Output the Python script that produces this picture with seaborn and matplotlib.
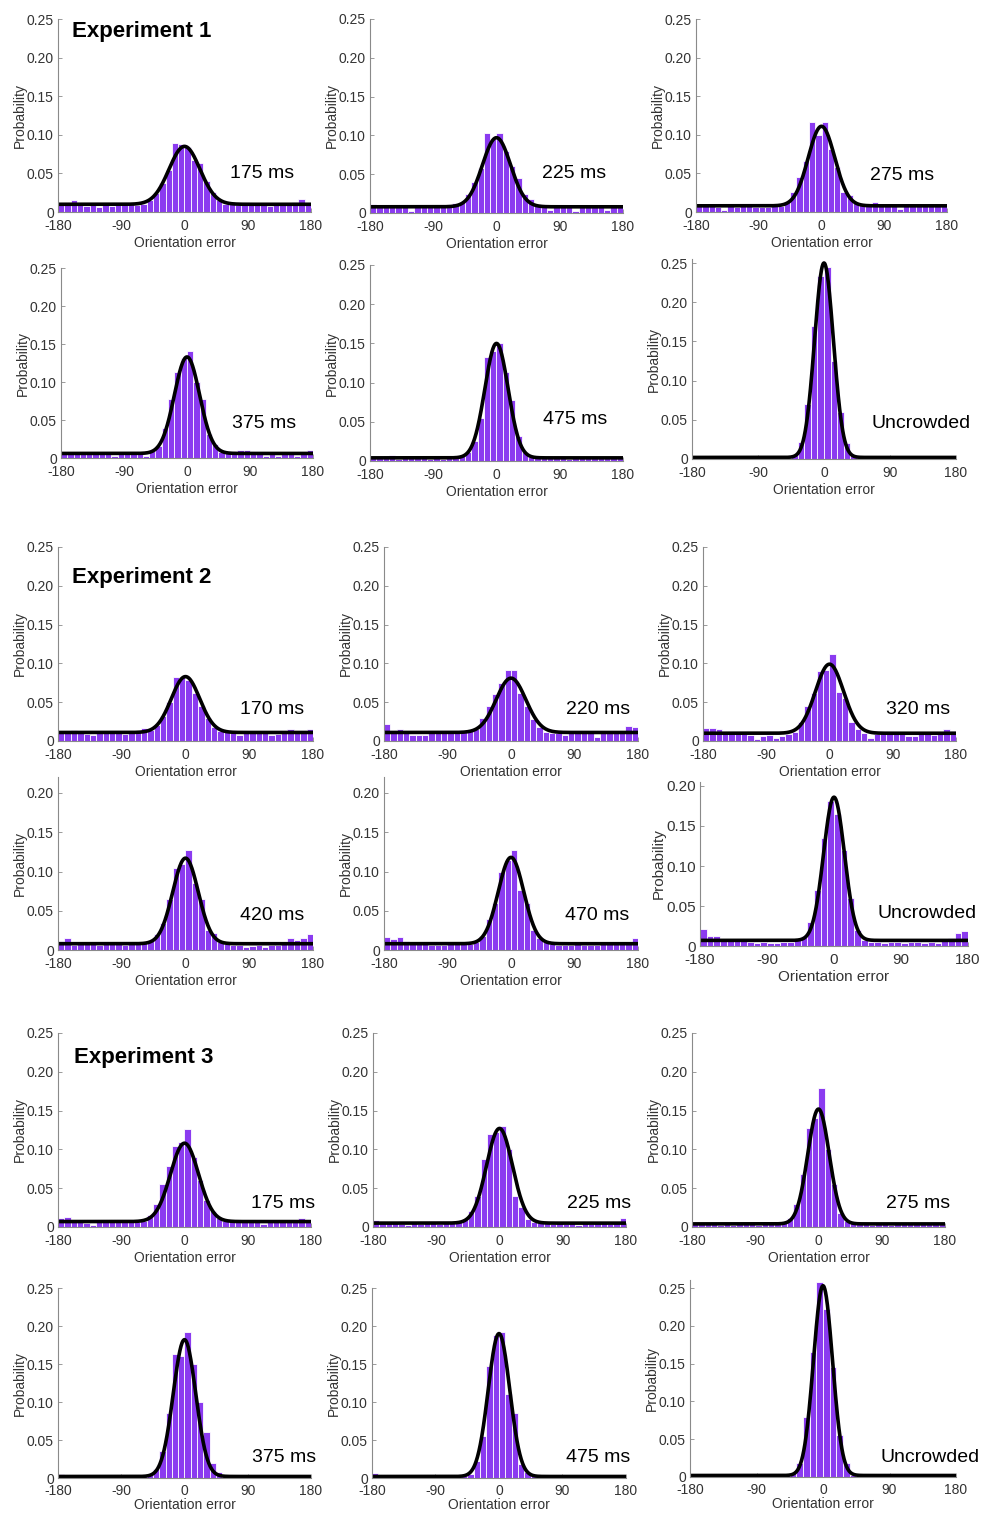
import numpy as np
import pandas as pd
import matplotlib
matplotlib.use('Agg')
import matplotlib.pyplot as plt
import seaborn as sns

sns.set_theme(style='ticks')
plt.rcParams['font.family'] = ['Liberation Sans', 'DejaVu Sans']

# 9-degree bins from -180 to 180
bin_edges = list(range(-180, 181, 9))
bin_centres = [e + 4.5 for e in bin_edges[:-1]]
x_ticks = [-180, -90, 0, 90, 180]

# probability per bin (40 bins each)
e1_175 = [0.010, 0.010, 0.015, 0.009, 0.008, 0.009, 0.007, 0.009, 0.008, 0.009, 0.011, 0.010, 0.009, 0.011,
          0.015, 0.024, 0.038, 0.055, 0.089, 0.088, 0.084, 0.068, 0.063, 0.040, 0.026, 0.016, 0.011,
          0.010, 0.009, 0.010, 0.009, 0.010, 0.009, 0.008, 0.010, 0.009, 0.010, 0.013, 0.017, 0.011]
e1_225 = [0.012, 0.010, 0.008, 0.008, 0.008, 0.009, 0.003, 0.008, 0.008, 0.008, 0.009, 0.008, 0.009,
          0.013, 0.014, 0.025, 0.040, 0.058, 0.103, 0.095, 0.103, 0.080, 0.060, 0.045, 0.025, 0.018, 0.011,
          0.008, 0.004, 0.008, 0.008, 0.008, 0.003, 0.008, 0.008, 0.008, 0.008, 0.004, 0.008, 0.009]
e1_275 = [0.010, 0.011, 0.010, 0.006, 0.003, 0.008, 0.007, 0.008, 0.008, 0.007, 0.006, 0.007, 0.008, 0.008,
          0.013, 0.026, 0.045, 0.066, 0.117, 0.100, 0.117, 0.082, 0.058, 0.026, 0.022, 0.012,
          0.009, 0.009, 0.013, 0.008, 0.008, 0.008, 0.004, 0.008, 0.008, 0.008, 0.008, 0.008, 0.008, 0.008]
e1_375 = [0.006, 0.006, 0.005, 0.006, 0.006, 0.006, 0.005, 0.006, 0.003, 0.006, 0.006, 0.005, 0.006, 0.003,
          0.009, 0.016, 0.040, 0.078, 0.113, 0.131, 0.141, 0.100, 0.078, 0.032, 0.018, 0.008,
          0.006, 0.006, 0.010, 0.010, 0.006, 0.006, 0.003, 0.006, 0.003, 0.006, 0.006, 0.003, 0.006, 0.011]
e1_475 = [0.004, 0.004, 0.004, 0.008, 0.003, 0.004, 0.004, 0.004, 0.004, 0.003, 0.004, 0.002, 0.004, 0.004,
          0.006, 0.012, 0.025, 0.055, 0.133, 0.140, 0.151, 0.113, 0.078, 0.032, 0.012, 0.005,
          0.004, 0.004, 0.004, 0.004, 0.004, 0.003, 0.004, 0.004, 0.004, 0.004, 0.004, 0.004, 0.004, 0.007]
e1_unc = [0.004, 0.001, 0.001, 0.001, 0.001, 0.001, 0.001, 0.001, 0.001, 0.001, 0.001, 0.001, 0.001, 0.001,
          0.001, 0.005, 0.022, 0.070, 0.170, 0.233, 0.245, 0.125, 0.060, 0.020, 0.005,
          0.001, 0.001, 0.001, 0.001, 0.001, 0.001, 0.001, 0.001, 0.001, 0.001, 0.001, 0.001, 0.001, 0.001, 0.001]
e2_170 = [0.012, 0.011, 0.014, 0.011, 0.009, 0.008, 0.010, 0.011, 0.012, 0.012, 0.009, 0.011, 0.012,
          0.017, 0.014, 0.021, 0.032, 0.050, 0.083, 0.082, 0.078, 0.062, 0.045, 0.030, 0.018, 0.013,
          0.011, 0.010, 0.008, 0.010, 0.012, 0.012, 0.010, 0.008, 0.009, 0.011, 0.015, 0.012, 0.012, 0.016]
e2_220 = [0.022, 0.011, 0.015, 0.012, 0.008, 0.008, 0.008, 0.010, 0.012, 0.013, 0.010, 0.010, 0.011,
          0.013, 0.015, 0.030, 0.045, 0.060, 0.075, 0.092, 0.092, 0.062, 0.045, 0.028, 0.018, 0.012,
          0.010, 0.010, 0.008, 0.010, 0.010, 0.010, 0.012, 0.005, 0.012, 0.010, 0.010, 0.010, 0.019, 0.018]
e2_320 = [0.017, 0.017, 0.015, 0.009, 0.009, 0.009, 0.009, 0.008, 0.002, 0.007, 0.008, 0.004, 0.006,
          0.009, 0.012, 0.025, 0.045, 0.062, 0.090, 0.092, 0.112, 0.063, 0.055, 0.025, 0.015, 0.010,
          0.004, 0.009, 0.010, 0.009, 0.009, 0.010, 0.007, 0.006, 0.009, 0.010, 0.008, 0.010, 0.016, 0.013]
e2_420 = [0.012, 0.015, 0.007, 0.008, 0.008, 0.008, 0.006, 0.008, 0.008, 0.008, 0.007, 0.008, 0.008, 0.009,
          0.012, 0.020, 0.035, 0.065, 0.105, 0.110, 0.127, 0.085, 0.065, 0.025, 0.022, 0.010,
          0.008, 0.007, 0.006, 0.004, 0.005, 0.007, 0.004, 0.007, 0.007, 0.008, 0.015, 0.013, 0.015, 0.020]
e2_470 = [0.016, 0.014, 0.016, 0.011, 0.008, 0.008, 0.008, 0.006, 0.006, 0.007, 0.008, 0.008, 0.008, 0.008,
          0.010, 0.018, 0.040, 0.060, 0.100, 0.115, 0.127, 0.076, 0.060, 0.025, 0.015, 0.010,
          0.008, 0.006, 0.007, 0.006, 0.008, 0.007, 0.006, 0.007, 0.008, 0.008, 0.008, 0.008, 0.008, 0.015]
e2_unc = [0.021, 0.012, 0.013, 0.008, 0.007, 0.006, 0.006, 0.005, 0.004, 0.005, 0.004, 0.004, 0.005, 0.005,
          0.007, 0.012, 0.030, 0.070, 0.135, 0.181, 0.165, 0.120, 0.060, 0.020, 0.008, 0.005,
          0.005, 0.004, 0.005, 0.005, 0.004, 0.005, 0.005, 0.004, 0.005, 0.004, 0.006, 0.010, 0.016, 0.019]
e3_175 = [0.012, 0.013, 0.008, 0.006, 0.005, 0.002, 0.006, 0.007, 0.006, 0.007, 0.006, 0.007, 0.007, 0.008,
          0.015, 0.030, 0.055, 0.078, 0.105, 0.110, 0.126, 0.090, 0.060, 0.035, 0.020, 0.012,
          0.008, 0.006, 0.006, 0.006, 0.006, 0.006, 0.004, 0.006, 0.006, 0.007, 0.006, 0.006, 0.012, 0.006]
e3_225 = [0.009, 0.008, 0.005, 0.005, 0.004, 0.003, 0.005, 0.004, 0.005, 0.005, 0.004, 0.005, 0.006, 0.006,
          0.010, 0.020, 0.040, 0.088, 0.120, 0.122, 0.130, 0.100, 0.040, 0.026, 0.010, 0.007,
          0.005, 0.005, 0.004, 0.005, 0.004, 0.005, 0.003, 0.005, 0.004, 0.005, 0.005, 0.004, 0.005, 0.011]
e3_275 = [0.007, 0.005, 0.004, 0.004, 0.003, 0.004, 0.003, 0.004, 0.004, 0.004, 0.003, 0.004, 0.004, 0.004,
          0.006, 0.012, 0.030, 0.068, 0.128, 0.140, 0.179, 0.100, 0.055, 0.018, 0.008, 0.005,
          0.004, 0.004, 0.003, 0.004, 0.004, 0.003, 0.004, 0.004, 0.004, 0.004, 0.004, 0.004, 0.006, 0.004]
e3_375 = [0.005, 0.002, 0.002, 0.002, 0.002, 0.002, 0.002, 0.002, 0.002, 0.002, 0.002, 0.002, 0.002, 0.002,
          0.004, 0.012, 0.035, 0.085, 0.163, 0.160, 0.192, 0.150, 0.100, 0.060, 0.020, 0.008,
          0.002, 0.002, 0.002, 0.002, 0.002, 0.002, 0.002, 0.002, 0.002, 0.002, 0.002, 0.002, 0.002, 0.002]
e3_475 = [0.007, 0.004, 0.002, 0.002, 0.002, 0.002, 0.002, 0.002, 0.002, 0.002, 0.002, 0.002, 0.002, 0.002,
          0.002, 0.005, 0.022, 0.055, 0.148, 0.188, 0.192, 0.111, 0.085, 0.018, 0.008,
          0.002, 0.002, 0.002, 0.002, 0.002, 0.002, 0.002, 0.002, 0.002, 0.002, 0.002, 0.002, 0.002, 0.002, 0.002]
e3_unc = [0.002, 0.002, 0.002, 0.002, 0.002, 0.002, 0.002, 0.002, 0.002, 0.002, 0.002, 0.002, 0.002, 0.002,
          0.002, 0.005, 0.018, 0.080, 0.165, 0.258, 0.222, 0.145, 0.055, 0.018, 0.003,
          0.002, 0.002, 0.002, 0.002, 0.002, 0.002, 0.002, 0.002, 0.002, 0.002, 0.002, 0.002, 0.002, 0.002, 0.002]

hists = [e1_175, e1_225, e1_275, e1_375, e1_475, e1_unc,
         e2_170, e2_220, e2_320, e2_420, e2_470, e2_unc,
         e3_175, e3_225, e3_275, e3_375, e3_475, e3_unc]
conditions = ['175 ms', '225 ms', '275 ms', '375 ms', '475 ms', 'Uncrowded',
              '170 ms', '220 ms', '320 ms', '420 ms', '470 ms', 'Uncrowded',
              '175 ms', '225 ms', '275 ms', '375 ms', '475 ms', 'Uncrowded']
experiments = ['Experiment 1', 'Experiment 2', 'Experiment 3']

# fitted model (uniform guess + peak)
fit_peak = [0.085, 0.097, 0.111, 0.133, 0.150, 0.250,
            0.083, 0.081, 0.099, 0.117, 0.118, 0.186,
            0.108, 0.127, 0.152, 0.182, 0.190, 0.253]
fit_base = [0.010, 0.008, 0.008, 0.006, 0.004, 0.002,
            0.011, 0.011, 0.010, 0.008, 0.008, 0.007,
            0.007, 0.005, 0.004, 0.002, 0.002, 0.002]
fit_sd = [22, 20, 19, 18, 16.5, 12.8,
          20, 21, 20, 18, 18, 14,
          20, 18.5, 15.3, 16, 15.3, 12.9]

# layout in pixels: x of -180, x of 180, y of top tick, top tick value, y of 0, ylim max
W, H = 987, 1515
panel_px = [
    (58, 311, 19, 0.25, 212, 0.25), (370, 623, 19, 0.25, 213, 0.25), (696, 947, 19, 0.25, 212, 0.25),
    (61, 313, 268, 0.25, 458, 0.25), (370, 623, 265, 0.25, 461, 0.25), (692, 956, 263, 0.25, 459, 0.255),
    (58, 313, 547, 0.25, 741, 0.25), (384, 638, 547, 0.25, 741, 0.25), (703, 956, 547, 0.25, 741, 0.25),
    (58, 313, 793, 0.20, 950, 0.22), (384, 638, 793, 0.20, 950, 0.22), (700, 968, 786, 0.20, 946, 0.205),
    (58, 311, 1033, 0.25, 1227, 0.25), (373, 626, 1033, 0.25, 1227, 0.25), (692, 945, 1033, 0.25, 1227, 0.25),
    (58, 311, 1288, 0.25, 1478, 0.25), (372, 626, 1288, 0.25, 1478, 0.25), (690, 956, 1288, 0.25, 1477, 0.26),
]
cond_px = [(230, 173), (542, 174), (870, 175), (232, 423), (543, 420), (872, 424),
           (240, 709), (566, 709), (886, 709), (240, 915), (565, 915), (878, 913),
           (251, 1204), (567, 1204), (886, 1204), (252, 1457), (566, 1457), (880, 1457)]
exp_px = [(72, 32), (72, 577), (74, 1057)]

purple = '#8B3BF0'
grey = '#8a8a8a'

fig = plt.figure(figsize=(W / 100, H / 100), dpi=100)
curve_x = np.linspace(-180, 180, 721)

for i, (vals, (x0, x1, yt, tv, y0, ymax)) in enumerate(zip(hists, panel_px)):
    scale = (y0 - yt) / tv
    top = y0 - ymax * scale
    ax = fig.add_axes([x0 / W, 1 - y0 / H, (x1 - x0) / W, (y0 - top) / H])
    df = pd.DataFrame({'err': bin_centres, 'p': vals})
    sns.histplot(data=df, x='err', weights='p', bins=bin_edges, color=purple, alpha=1,
                 edgecolor='white', linewidth=0.6, ax=ax)
    curve_y = fit_base[i] + (fit_peak[i] - fit_base[i]) * np.exp(-curve_x ** 2 / (2 * fit_sd[i] ** 2))
    fit_df = pd.DataFrame({'err': curve_x, 'p': curve_y})
    sns.lineplot(data=fit_df, x='err', y='p', color='black', linewidth=2.6, ax=ax)
    ax.set_xlim(-180, 180)
    ax.set_ylim(0, ymax)
    ax.set_xticks(x_ticks)
    ax.set_xticklabels([str(t) for t in x_ticks])
    yt_vals = np.arange(0, tv + 0.001, 0.05)
    ax.set_yticks(yt_vals)
    ax.set_yticklabels(['0'] + ['%.2f' % v for v in yt_vals[1:]])
    fs = 11 if i == 11 else 10
    ax.tick_params(direction='in', length=3, width=0.6, color=grey, labelcolor='#333333',
                   labelsize=fs)
    ax.tick_params(axis='x', pad=4 if i >= 15 else 5)
    ax.tick_params(axis='y', pad=3)
    ax.set_xlabel('Orientation error', fontsize=fs, color='#333333',
                  labelpad=0 if i >= 15 else 2)
    ax.set_ylabel('Probability', fontsize=fs, color='#333333', labelpad=0)
    sns.despine(ax=ax)
    for s in ['left', 'bottom']:
        ax.spines[s].set_color(grey)
        ax.spines[s].set_linewidth(0.8)

for (tx, ty), lab in zip(cond_px, conditions):
    fig.text(tx / W, 1 - ty / H, lab, fontsize=14, va='center', ha='left', color='black')
for (tx, ty), lab in zip(exp_px, experiments):
    fig.text(tx / W, 1 - ty / H, lab, fontsize=16, fontweight='bold', va='center', ha='left',
             color='black')

fig.savefig('out.png', dpi=100)
